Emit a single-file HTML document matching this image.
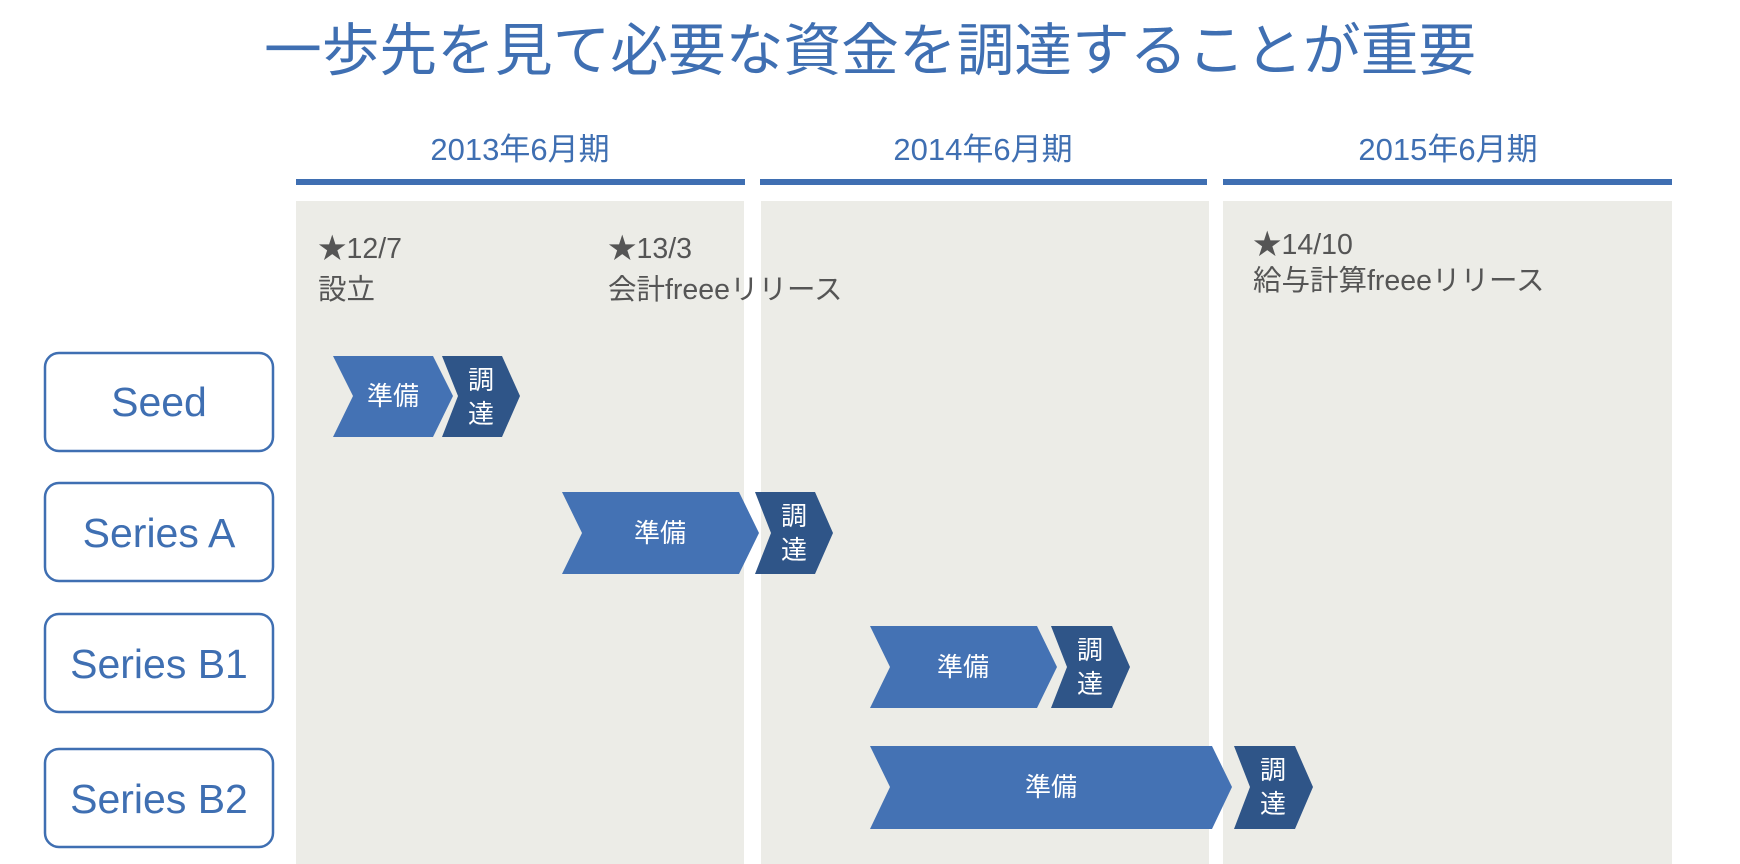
<!DOCTYPE html>
<html><head><meta charset="utf-8"><style>
html,body{margin:0;padding:0;background:#fff}
svg{display:block}
</style></head><body>
<svg width="1740" height="864" xmlns="http://www.w3.org/2000/svg" font-family="'Liberation Sans','Noto Sans CJK JP',sans-serif">
<text x="870" y="70" text-anchor="middle" font-size="57" font-weight="normal" fill="#3f6fb2" font-family="'Noto Sans CJK JP',sans-serif" textLength="1212" lengthAdjust="spacingAndGlyphs">一歩先を見て必要な資金を調達することが重要</text>
<g font-size="31" fill="#3f6fb2" text-anchor="middle" font-family="'Liberation Sans','Noto Sans CJK JP',sans-serif">
<text x="520" y="160">2013年6月期</text>
<text x="983" y="160">2014年6月期</text>
<text x="1448" y="160">2015年6月期</text>
</g>
<g fill="#3f6fb2">
<rect x="296" y="179" width="449" height="6"/>
<rect x="760" y="179" width="447" height="6"/>
<rect x="1223" y="179" width="449" height="6"/>
</g>
<g fill="#ecece7">
<rect x="296" y="201" width="448" height="663"/>
<rect x="761" y="201" width="448" height="663"/>
<rect x="1223" y="201" width="449" height="663"/>
</g>
<g font-size="28.5" fill="#555">
<text x="318" y="258">★12/7</text>
<text x="318" y="299" font-family="'Noto Sans CJK JP',sans-serif">設立</text>
<text x="608" y="258">★13/3</text>
<text x="608" y="299">会計freeeリリース</text>
<text x="1253" y="254">★14/10</text>
<text x="1253" y="290">給与計算freeeリリース</text>
</g>
<g fill="#fff" stroke="#3f6fb2" stroke-width="2.5">
<rect x="45" y="353" width="228" height="98" rx="14"/>
<rect x="45" y="483" width="228" height="98" rx="14"/>
<rect x="45" y="614" width="228" height="98" rx="14"/>
<rect x="45" y="749" width="228" height="98" rx="14"/>
</g>
<g font-size="41" fill="#3f6fb2" text-anchor="middle">
<text x="159" y="416">Seed</text>
<text x="159" y="547">Series A</text>
<text x="159" y="678">Series B1</text>
<text x="159" y="813">Series B2</text>
</g>
<g fill="#4472b4">
<polygon points="333,356 433,356 453,396 433,437 333,437 353,396"/>
<polygon points="562,492 739,492 759,533 739,574 562,574 582,533"/>
<polygon points="870,626 1037,626 1057,667 1037,708 870,708 890,667"/>
<polygon points="870,746 1212,746 1232,787 1212,829 870,829 890,787"/>
</g>
<g fill="#2f5588">
<polygon points="442,356 502,356 520,396 502,437 442,437 458,396"/>
<polygon points="755,492 815,492 833,533 815,574 755,574 771,533"/>
<polygon points="1051,626 1112,626 1130,667 1112,708 1051,708 1067,667"/>
<polygon points="1234,746 1295,746 1313,787 1295,829 1234,829 1250,787"/>
</g>
<g font-size="26" fill="#fff" text-anchor="middle" font-family="'Noto Sans CJK JP',sans-serif">
<text x="393" y="405">準備</text>
<text x="481" y="389">調</text><text x="481" y="423">達</text>
<text x="660" y="542">準備</text>
<text x="794" y="525">調</text><text x="794" y="559">達</text>
<text x="963" y="676">準備</text>
<text x="1090" y="659">調</text><text x="1090" y="693">達</text>
<text x="1051" y="796">準備</text>
<text x="1273" y="779">調</text><text x="1273" y="813">達</text>
</g>
</svg>
</body></html>
